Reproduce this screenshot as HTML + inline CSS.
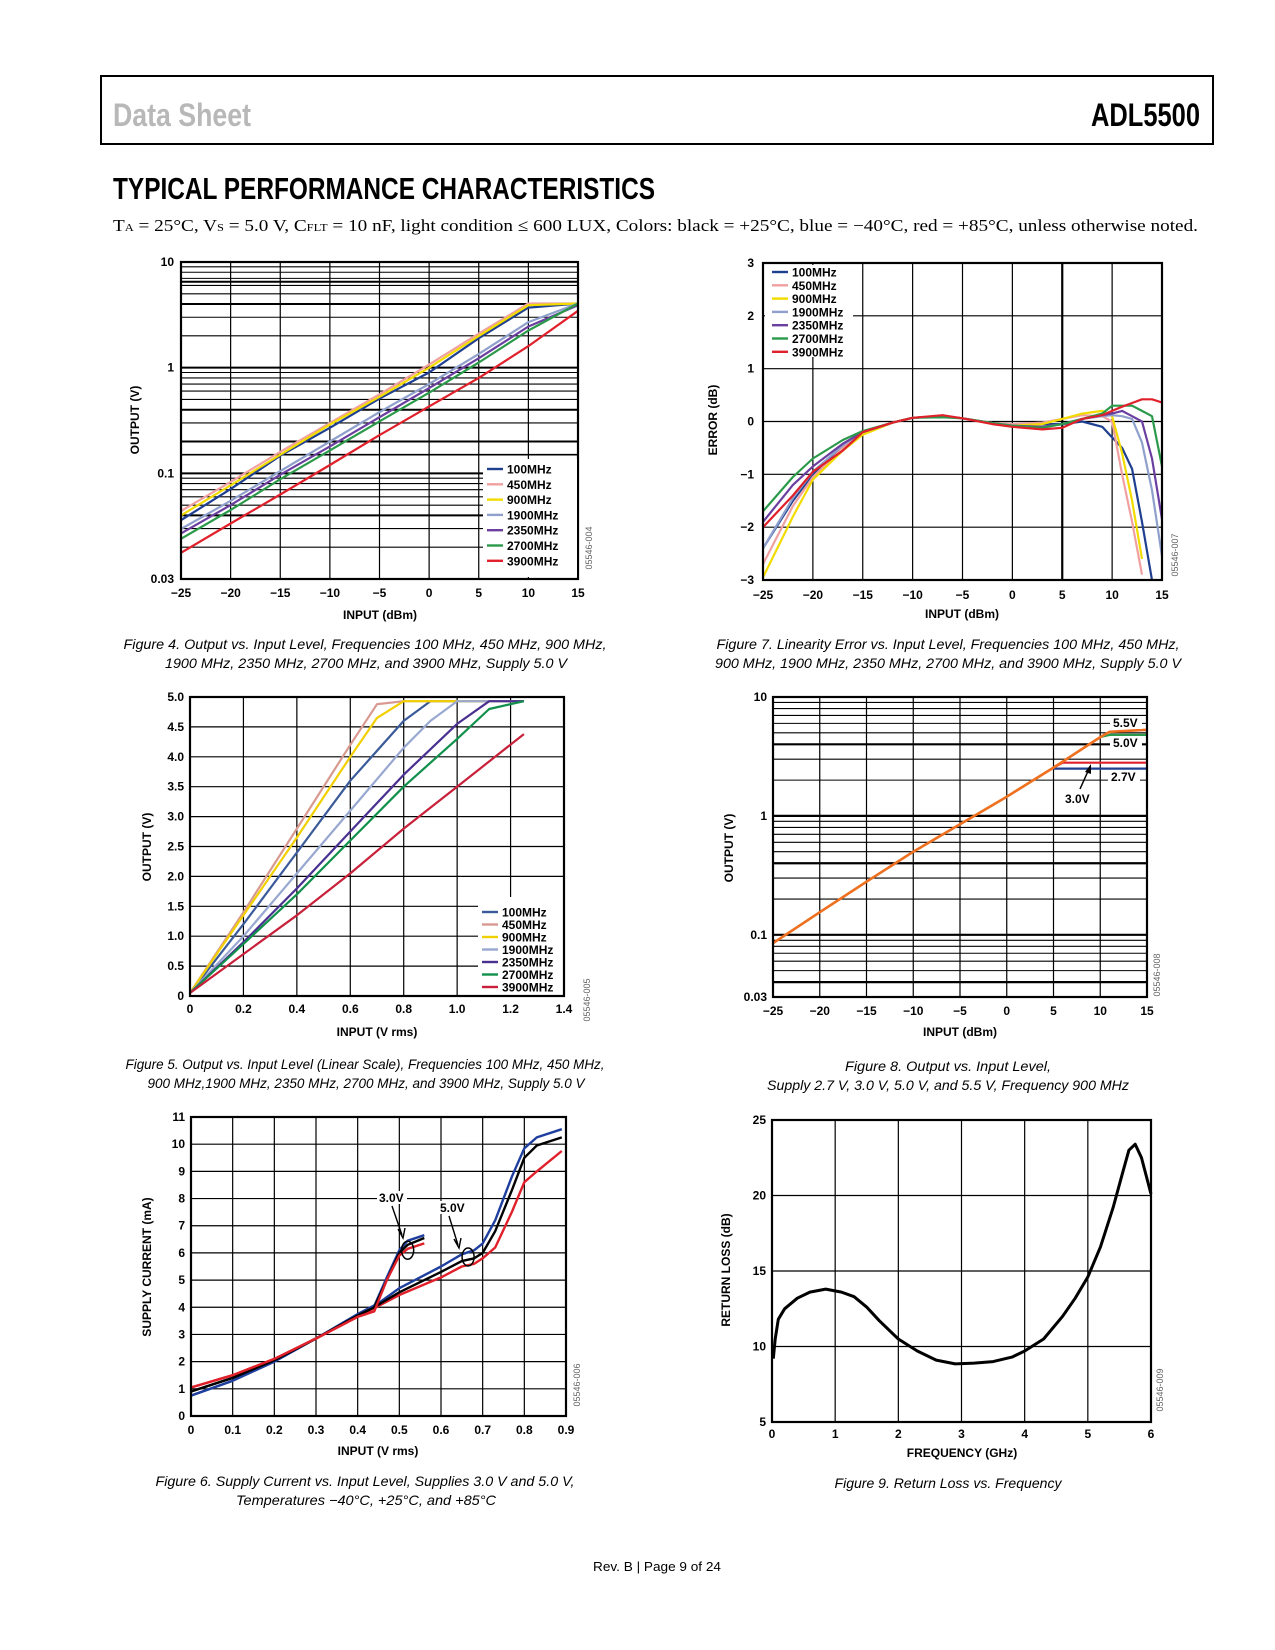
<!DOCTYPE html>
<html><head><meta charset="utf-8"><style>
html,body{margin:0;padding:0;background:#fff;}
svg{display:block;font-family:"Liberation Sans",Arial,sans-serif;}
</style></head><body>
<svg id="page" xmlns="http://www.w3.org/2000/svg" width="1275" height="1650" viewBox="0 0 1275 1650">
<rect x="101" y="76" width="1112" height="68" fill="none" stroke="#000" stroke-width="2"/>
<text x="113" y="126" font-size="32" font-weight="bold" fill="#b8b8b8" textLength="138" lengthAdjust="spacingAndGlyphs">Data Sheet</text>
<text x="1091" y="126" font-size="32" font-weight="bold" fill="#000" textLength="109" lengthAdjust="spacingAndGlyphs">ADL5500</text>
<text x="113" y="199" font-size="31" font-weight="bold" fill="#000" textLength="542" lengthAdjust="spacingAndGlyphs">TYPICAL PERFORMANCE CHARACTERISTICS</text>
<text x="113" y="231" font-family="Liberation Serif, serif" font-size="17" fill="#000" textLength="1085" lengthAdjust="spacingAndGlyphs">T<tspan font-size="11">A</tspan> = 25°C, V<tspan font-size="11">S</tspan> = 5.0 V, C<tspan font-size="11">FLT</tspan> = 10 nF, light condition ≤ 600 LUX, Colors: black = +25°C, blue = −40°C, red = +85°C, unless otherwise noted.</text>
<text x="657" y="1571" font-size="13" text-anchor="middle" textLength="128" lengthAdjust="spacingAndGlyphs">Rev. B | Page 9 of 24</text>
</svg>
<script>
// ---------- Figure 4 data ----------
const f4X = [-25,-20,-15,-10,-5,0,5,10,15];
const f4Names = ['100MHz','450MHz','900MHz','1900MHz','2350MHz','2700MHz','3900MHz'];
const f4_100 = [0.036,0.071,0.147,0.27,0.51,0.9,1.9,3.7,4.05];
const f4_450 = [0.044,0.083,0.16,0.30,0.56,1.07,2.1,4.05,4.05];
const f4_900 = [0.040,0.077,0.15,0.29,0.53,1.0,2.0,3.9,4.05];
const f4_1900 = [0.0297,0.055,0.105,0.20,0.38,0.70,1.35,2.7,4.05];
const f4_2350 = [0.027,0.05,0.097,0.18,0.34,0.64,1.23,2.45,3.9];
const f4_2700 = [0.024,0.045,0.088,0.165,0.31,0.58,1.12,2.25,4.05];
const f4_3900 = [0.0177,0.0335,0.063,0.12,0.23,0.43,0.8,1.6,3.45];
const f4XTicks = [-25,-20,-15,-10,-5,0,5,10,15];
const f4YTickVals = [0.01,0.1,1,10];
const f4YTickLabels = ['0.03','0.1','1','10'];
// ---------- Figure 7 data ----------
const f7X = [-25,-22,-20,-17,-15,-12,-10,-7,-5,-2,0,3,5,7,9,10,11,12,13,14,15];
const f7_100 = [-2.4,-1.5,-1.0,-0.5,-0.22,-0.02,0.07,0.1,0.06,-0.03,-0.05,-0.05,-0.05,0,-0.1,-0.3,-0.5,-0.9,-1.9,-3.0,null];
const f7_450 = [-2.7,-1.6,-1.05,-0.5,-0.22,-0.02,0.07,0.1,0.06,-0.03,-0.05,-0.02,0.05,0.12,0.1,0,-1.0,-1.9,-2.9,null,null];
const f7_900 = [-2.95,-1.8,-1.1,-0.55,-0.25,-0.02,0.07,0.1,0.06,-0.03,-0.08,-0.05,0.05,0.15,0.2,0.1,-0.6,-1.5,-2.6,null,null];
const f7_1900 = [-2.4,-1.45,-0.95,-0.45,-0.2,-0.02,0.07,0.1,0.06,-0.03,-0.08,-0.1,-0.05,0.05,0.1,0.12,0.1,0.05,-0.4,-1.3,-2.55];
const f7_2350 = [-1.9,-1.2,-0.85,-0.42,-0.2,-0.02,0.07,0.1,0.06,-0.03,-0.08,-0.1,-0.05,0.05,0.12,0.15,0.2,0.1,0,-0.7,-1.85];
const f7_2700 = [-1.7,-1.05,-0.7,-0.35,-0.18,-0.02,0.07,0.08,0.06,-0.03,-0.08,-0.12,-0.05,0.05,0.15,0.3,0.3,0.3,0.2,0.1,-0.85];
const f7_3900 = [-2.0,-1.4,-0.95,-0.55,-0.2,-0.02,0.07,0.12,0.06,-0.05,-0.1,-0.15,-0.12,0.05,0.12,0.2,0.28,0.35,0.42,0.42,0.36];
const f7XTicks = [-25,-20,-15,-10,-5,0,5,10,15];
const f7YTicks = [-3,-2,-1,0,1,2,3];
const f7YLabels = ['−3','−2','−1','0','1','2','3'];
// ---------- Figure 5 data ----------
const f5_100x = [0,0.2,0.4,0.6,0.8,0.9,1.25];
const f5_100y = [0.05,1.2,2.4,3.6,4.6,4.93,4.93];
const f5_450x = [0,0.2,0.4,0.6,0.7,0.8,1.25];
const f5_450y = [0.05,1.4,2.8,4.2,4.88,4.93,4.93];
const f5_900x = [0,0.2,0.4,0.6,0.7,0.8,1.25];
const f5_900y = [0.05,1.35,2.65,4.0,4.65,4.93,4.93];
const f5_1900x = [0,0.2,0.4,0.6,0.8,0.9,1.0,1.25];
const f5_1900y = [0.05,1.0,2.05,3.1,4.15,4.6,4.93,4.93];
const f5_2350x = [0,0.2,0.4,0.6,0.8,1.0,1.12,1.25];
const f5_2350y = [0.05,0.9,1.8,2.75,3.7,4.55,4.93,4.93];
const f5_2700x = [0,0.2,0.4,0.6,0.8,1.0,1.12,1.25];
const f5_2700y = [0.05,0.87,1.7,2.6,3.5,4.3,4.8,4.93];
const f5_3900x = [0,0.2,0.4,0.6,0.8,1.0,1.25];
const f5_3900y = [0.05,0.7,1.35,2.05,2.8,3.5,4.38];
const f5XTicks = [0,0.2,0.4,0.6,0.8,1.0,1.2,1.4];
const f5XLabels = ['0','0.2','0.4','0.6','0.8','1.0','1.2','1.4'];
const f5YTicks = [0,0.5,1,1.5,2,2.5,3,3.5,4,4.5,5];
const f5YLabels = ['0','0.5','1.0','1.5','2.0','2.5','3.0','3.5','4.0','4.5','5.0'];
// ---------- Figure 8 data ----------
const f8X = [-25,-20,-15,-10,-5,0,5,10,11,15];
const f8_55 = [0.085,0.155,0.28,0.5,0.85,1.45,2.55,4.6,5.1,5.3];
const f8_50 = [0.085,0.155,0.28,0.5,0.85,1.45,2.55,4.6,4.8,4.8];
const f8_30x = [5,6,15];
const f8_30y = [2.55,2.8,2.8];
const f8_27x = [5,6,15];
const f8_27y = [2.5,2.5,2.5];
const f8XTicks = [-25,-20,-15,-10,-5,0,5,10,15];
const f8YTickVals = [0.03,0.1,1,10];
const f8YTickLabels = ['0.03','0.1','1','10'];
// ---------- Figure 6 data ----------
const f6_5x = [0,0.1,0.2,0.3,0.4,0.45,0.5,0.6,0.65,0.68,0.7,0.73,0.77,0.8,0.83,0.89];
const f6_5black = [0.9,1.4,2.05,2.85,3.7,4.1,4.55,5.3,5.7,5.8,6.0,6.8,8.3,9.5,9.95,10.25];
const f6_5blue = [0.75,1.3,2.0,2.85,3.75,4.15,4.7,5.5,5.95,6.1,6.35,7.2,8.8,9.85,10.25,10.55];
const f6_5red = [1.05,1.5,2.1,2.85,3.65,4.05,4.45,5.1,5.5,5.6,5.8,6.2,7.5,8.6,9.0,9.75];
const f6_3x = [0,0.1,0.2,0.3,0.4,0.44,0.47,0.5,0.52,0.56];
const f6_3black = [0.9,1.4,2.05,2.85,3.7,4.0,5.0,6.0,6.3,6.55];
const f6_3blue = [0.75,1.3,2.0,2.85,3.75,4.05,5.1,6.1,6.45,6.65];
const f6_3red = [1.05,1.5,2.1,2.85,3.65,3.85,5.0,5.9,6.15,6.35];
const f6XTicks = [0,0.1,0.2,0.3,0.4,0.5,0.6,0.7,0.8,0.9];
const f6XLabels = ['0','0.1','0.2','0.3','0.4','0.5','0.6','0.7','0.8','0.9'];
const f6YTicks = [0,1,2,3,4,5,6,7,8,9,10,11];
// ---------- Figure 9 data ----------
const f9X = [0.02,0.05,0.1,0.2,0.4,0.6,0.85,1.1,1.3,1.5,1.7,2.0,2.3,2.6,2.9,3.2,3.5,3.8,4.0,4.3,4.6,4.8,5.0,5.2,5.4,5.55,5.65,5.75,5.85,6.0];
const f9Y = [9.2,10.5,11.8,12.5,13.2,13.6,13.8,13.6,13.3,12.6,11.7,10.5,9.7,9.1,8.85,8.9,9.0,9.3,9.7,10.5,12.0,13.2,14.6,16.6,19.2,21.5,23.0,23.4,22.5,20.1];
const f9XTicks = [0,1,2,3,4,5,6];
const f9YTicks = [5,10,15,20,25];

const NS='http://www.w3.org/2000/svg';
const svg=document.getElementById('page');
function mk(tag,attrs,parent){const e=document.createElementNS(NS,tag);for(const k in attrs)e.setAttribute(k,attrs[k]);(parent||svg).appendChild(e);return e;}
function lin(d0,d1,p0,p1){return v=>p0+(v-d0)/(d1-d0)*(p1-p0);}
function lg(d0,d1,p0,p1){const a=Math.log10(d0),b=Math.log10(d1);return v=>p0+(Math.log10(v)-a)/(b-a)*(p1-p0);}
function pathD(xs,ys,X,Y){let d='';let pen=false;for(let i=0;i<xs.length;i++){if(ys[i]===null||ys[i]===undefined){pen=false;continue;}d+=(pen?'L':'M')+X(xs[i]).toFixed(1)+','+Y(ys[i]).toFixed(1);pen=true;}return d;}
function series(g,xs,ys,X,Y,color,name,w){
  const p=mk('path',{d:pathD(xs,ys,X,Y),fill:'none',stroke:color,'stroke-width':w||2.2,'stroke-linejoin':'round'},g);
  
  
  return p;
}
function hline(g,y,L,R,w){const l=mk('line',{x1:L,x2:R,y1:y,y2:y,stroke:'#000','stroke-width':w||1.2},g);
  
  }
function vline(g,x,T,B,w){const l=mk('line',{x1:x,x2:x,y1:T,y2:B,stroke:'#000','stroke-width':w||1.2},g);
  
  }
function txt(g,x,y,s,attrs,name){const t=mk('text',Object.assign({x:x,y:y,'font-size':12,'font-weight':'bold'},attrs||{}),g);t.textContent=s;
  
  return t;}
function frame(g,L,T,R,B){const r=mk('rect',{x:L,y:T,width:R-L,height:B-T,fill:'none',stroke:'#000','stroke-width':2.2},g);
  
  }
function xTickLabels(g,vals,labels,X,y){vals.forEach((v,i)=>txt(g,X(v),y,labels?labels[i]:String(v).replace('-','−'),{'text-anchor':'middle'},'x-tick-label'));}
function yTickLabels(g,vals,labels,Y,x){vals.forEach((v,i)=>txt(g,x,Y(v)+4,labels?labels[i]:String(v),{'text-anchor':'end'},'y-tick-label'));}
function yTitle(g,x,y,s){txt(g,x,y,s,{'text-anchor':'middle',transform:'rotate(-90 '+x+' '+y+')'},'y-axis-title');}
function xTitle(g,x,y,s){txt(g,x,y,s,{'text-anchor':'middle'},'x-axis-title');}
function watermark(g,x,y,s){txt(g,x,y,s,{'font-size':9,'font-weight':'normal',fill:'#666','text-anchor':'middle',transform:'rotate(-90 '+x+' '+y+')'},'figure-code');}
function caption(lines){lines.forEach(l=>{const t=mk('text',{x:l[0],y:l[1],'font-size':14,'font-style':'italic','text-anchor':'middle',textLength:l[3],lengthAdjust:'spacingAndGlyphs'});t.textContent=l[2];
  
  });}
function legend(g,names,colors,x0,y0,step,bx,by,bw,bh){
  const bg=mk('rect',{x:bx,y:by,width:bw,height:bh,fill:'#fff'},g);
  
  
  names.forEach((n,i)=>{const y=y0+i*step;
    const l=mk('line',{x1:x0,x2:x0+16,y1:y,y2:y,stroke:colors[i],'stroke-width':2.4},g);
    
    
    txt(g,x0+20,y+4.5,n,{},'legend-entry');});
}
const colA=['#1f3f8f','#f0a0a0','#f2dc00','#8fa0cc','#6a3fa0','#2a9a4a','#e0202a'];
const colB=['#3a5a9a','#d89a90','#f2d000','#98a8d0','#4a3090','#10904a','#c8203a'];

// ===== Figure 4 =====
(function(){
  const g=mk('g',{});
  
  
  const L=181,R=578,T=262,B=579;
  const X=lin(-25,15,L,R),Y=lg(0.01,10,B,T);
  [0.01,0.1,1].forEach(d=>{for(let m=1;m<10;m++)hline(g,Y(d*m),L,R,(m===1||m===4)?2:1.1);});
  hline(g,Y(6.5),L,R,2);hline(g,Y(0.2),L,R,2);hline(g,Y(0.15),L,R,1.6);
  f4XTicks.forEach(v=>vline(g,X(v),T,B));
  const ys=[f4_100,f4_450,f4_900,f4_1900,f4_2350,f4_2700,f4_3900];
  ys.forEach((s,i)=>series(g,f4X,s,X,Y,colA[i],'series-'+f4Names[i].toLowerCase()));
  frame(g,L,T,R,B);
  legend(g,f4Names,colA,487,469,15.3,483,459,94,118);
  xTickLabels(g,f4XTicks,null,X,597);
  yTickLabels(g,f4YTickVals,f4YTickLabels,Y,174);
  yTitle(g,139,420,'OUTPUT (V)');xTitle(g,380,619,'INPUT (dBm)');
  watermark(g,592,548,'05546-004');
})();
// ===== Figure 7 =====
(function(){
  const g=mk('g',{});
  
  
  const L=763,R=1162,T=263,B=580;
  const X=lin(-25,15,L,R),Y=lin(-3,3,B,T);
  f7YTicks.forEach(v=>hline(g,Y(v),L,R));
  f7XTicks.forEach(v=>vline(g,X(v),T,B,v===5?2.2:1.2));
  const ys=[f7_100,f7_450,f7_900,f7_1900,f7_2350,f7_2700,f7_3900];
  const cp=mk('clipPath',{id:'c7'},g);mk('rect',{x:L,y:T,width:R-L,height:B-T},cp);
  const sg=mk('g',{'clip-path':'url(#c7)'},g);
  ys.forEach((s,i)=>series(sg,f7X,s,X,Y,colA[i],'series-'+f4Names[i].toLowerCase()));
  legend(g,f4Names,colA,772,272,13.3,765,265,88,92);
  frame(g,L,T,R,B);
  xTickLabels(g,f7XTicks,null,X,599);
  yTickLabels(g,f7YTicks,f7YLabels,Y,754);
  yTitle(g,717,420,'ERROR (dB)');xTitle(g,962,618,'INPUT (dBm)');
  watermark(g,1178,555,'05546-007');
})();
// ===== Figure 5 =====
(function(){
  const g=mk('g',{});
  
  
  const L=190,R=564,T=697,B=996;
  const X=lin(0,1.4,L,R),Y=lin(0,5,B,T);
  f5YTicks.forEach(v=>hline(g,Y(v),L,R));
  f5XTicks.forEach(v=>vline(g,X(v),T,B));
  const xs=[f5_100x,f5_450x,f5_900x,f5_1900x,f5_2350x,f5_2700x,f5_3900x];
  const ys=[f5_100y,f5_450y,f5_900y,f5_1900y,f5_2350y,f5_2700y,f5_3900y];
  ys.forEach((s,i)=>series(g,xs[i],s,X,Y,colB[i],'series-'+f4Names[i].toLowerCase()));
  legend(g,f4Names,colB,482,912,12.5,478,897,86,98);
  frame(g,L,T,R,B);
  xTickLabels(g,f5XTicks,f5XLabels,X,1013);
  yTickLabels(g,f5YTicks,f5YLabels,Y,184);
  yTitle(g,151,847,'OUTPUT (V)');xTitle(g,377,1036,'INPUT (V rms)');
  watermark(g,590,1000,'05546-005');
})();
// ===== Figure 8 =====
(function(){
  const g=mk('g',{});
  
  
  const L=773,R=1147,T=697,B=997;
  const X=lin(-25,15,L,R),Y=lg(0.03,10,B,T);
  [0.01,0.1,1].forEach(d=>{for(let m=1;m<10;m++){const v=d*m;if(v>=0.03&&v<=10)hline(g,Y(v),L,R,(m===1||m===4)?2.2:1.1);}});
  hline(g,Y(10),L,R,1.1);
  f8XTicks.forEach(v=>vline(g,X(v),T,B));
  series(g,f8_27x,f8_27y,X,Y,'#1f3f8f','series-2.7v');
  series(g,f8_30x,f8_30y,X,Y,'#e0202a','series-3.0v');
  series(g,f8X,f8_50,X,Y,'#2a9a4a','series-5.0v');
  series(g,f8X,f8_55,X,Y,'#f07020','series-5.5v',2.6);
  frame(g,L,T,R,B);
  [['5.5V',1113,727],['5.0V',1113,747],['2.7V',1111,781]].forEach(a=>{
    const b=mk('rect',{x:a[1]-3,y:a[2]-11,width:32,height:13,fill:'#fff'},g);
    
    
    txt(g,a[1],a[2],a[0],{},'supply-label');});
  txt(g,1065,803,'3.0V',{},'supply-label');
  const ar=mk('line',{x1:1080,y1:789,x2:1089,y2:769,stroke:'#000','stroke-width':1.5},g);
  
  
  const ah=mk('path',{d:'M1091,764 L1085,772 L1091,774 Z',fill:'#000'},g);
  
  
  xTickLabels(g,f8XTicks,null,X,1015);
  yTickLabels(g,f8YTickVals,f8YTickLabels,Y,767);
  yTitle(g,733,848,'OUTPUT (V)');xTitle(g,960,1036,'INPUT (dBm)');
  watermark(g,1160,975,'05546-008');
})();
// ===== Figure 6 =====
(function(){
  const g=mk('g',{});
  
  
  const L=191,R=566,T=1117,B=1416;
  const X=lin(0,0.9,L,R),Y=lin(0,11,B,T);
  f6YTicks.forEach(v=>hline(g,Y(v),L,R));
  f6XTicks.forEach(v=>vline(g,X(v),T,B));
  series(g,f6_5x,f6_5red,X,Y,'#e0202a','series-5v-85c',2.4);
  series(g,f6_5x,f6_5blue,X,Y,'#1f3f9f','series-5v-minus40c',2.4);
  series(g,f6_5x,f6_5black,X,Y,'#000','series-5v-25c',2.4);
  series(g,f6_3x,f6_3blue,X,Y,'#1f3f9f','series-3v-minus40c',2.4);
  series(g,f6_3x,f6_3black,X,Y,'#000','series-3v-25c',2.4);
  series(g,f6_3x,f6_3red,X,Y,'#e0202a','series-3v-85c',2.4);
  const e1=mk('ellipse',{cx:X(0.52),cy:Y(6.1),rx:6,ry:9,fill:'none',stroke:'#000','stroke-width':1.5},g);
  
  
  const e2=mk('ellipse',{cx:X(0.665),cy:Y(5.85),rx:6,ry:9,fill:'none',stroke:'#000','stroke-width':1.5},g);
  
  
  frame(g,L,T,R,B);
  const b1=mk('rect',{x:377,y:1191,width:30,height:13,fill:'#fff'},g);
  
  
  txt(g,379,1202,'3.0V',{},'supply-label-3v');
  const b2=mk('rect',{x:438,y:1201,width:30,height:13,fill:'#fff'},g);
  
  
  txt(g,440,1212,'5.0V',{},'supply-label-5v');
  const a1=mk('path',{d:'M392,1206 L402,1235 M398,1229 L403,1238 L405,1228',fill:'none',stroke:'#000','stroke-width':1.4},g);
  
  
  const a2=mk('path',{d:'M449,1216 L458,1245 M454,1239 L459,1248 L461,1238',fill:'none',stroke:'#000','stroke-width':1.4},g);
  
  
  xTickLabels(g,f6XTicks,f6XLabels,X,1434);
  yTickLabels(g,f6YTicks,null,Y,185);
  yTitle(g,151,1267,'SUPPLY CURRENT (mA)');xTitle(g,378,1455,'INPUT (V rms)');
  watermark(g,580,1385,'05546-006');
})();
// ===== Figure 9 =====
(function(){
  const g=mk('g',{});
  
  
  const L=772,R=1151,T=1120,B=1422;
  const X=lin(0,6,L,R),Y=lin(5,25,B,T);
  f9YTicks.forEach(v=>hline(g,Y(v),L,R));
  f9XTicks.forEach(v=>vline(g,X(v),T,B));
  series(g,f9X,f9Y,X,Y,'#000','series-return-loss',3);
  frame(g,L,T,R,B);
  xTickLabels(g,f9XTicks,null,X,1438);
  yTickLabels(g,f9YTicks,null,Y,766);
  yTitle(g,730,1270,'RETURN LOSS (dB)');xTitle(g,962,1457,'FREQUENCY (GHz)');
  watermark(g,1163,1390,'05546-009');
})();
caption([
 [365,649,'Figure 4. Output vs. Input Level, Frequencies 100 MHz, 450 MHz, 900 MHz,',483],
 [366,668,'1900 MHz, 2350 MHz, 2700 MHz, and 3900 MHz, Supply 5.0 V',402],
 [948,649,'Figure 7. Linearity Error vs. Input Level, Frequencies 100 MHz, 450 MHz,',463],
 [948,668,'900 MHz, 1900 MHz, 2350 MHz, 2700 MHz, and 3900 MHz, Supply 5.0 V',466],
 [365,1069,'Figure 5. Output vs. Input Level (Linear Scale), Frequencies 100 MHz, 450 MHz,',479],
 [366,1088,'900 MHz,1900 MHz, 2350 MHz, 2700 MHz, and 3900 MHz, Supply 5.0 V',437],
 [948,1071,'Figure 8. Output vs. Input Level,',206],
 [948,1090,'Supply 2.7 V, 3.0 V, 5.0 V, and 5.5 V, Frequency 900 MHz',362],
 [365,1486,'Figure 6. Supply Current vs. Input Level, Supplies 3.0 V and 5.0 V,',419],
 [366,1505,'Temperatures −40°C, +25°C, and +85°C',260],
 [948,1488,'Figure 9. Return Loss vs. Frequency',227]
]);
</script>
</body></html>
